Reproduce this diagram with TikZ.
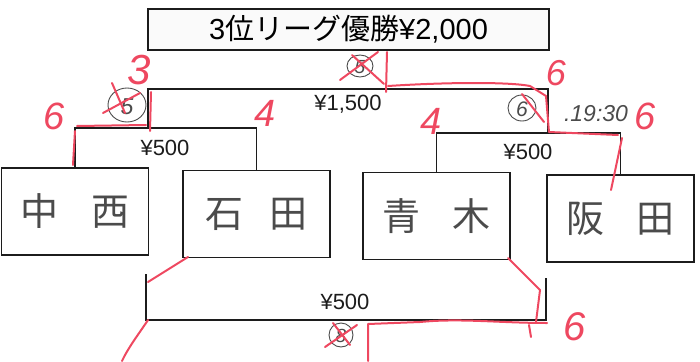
\documentclass[tikz,border=0pt]{standalone}
\usepackage{fontspec}
\setmainfont{Liberation Sans}
\newfontfamily\jp{Noto Sans CJK JP}
\definecolor{redink}{RGB}{238,72,96}
\definecolor{pencil}{RGB}{75,75,75}
\definecolor{inkline}{RGB}{28,28,28}
\newcommand{\namefont}{\jp\fontsize{38}{40}\selectfont\color{pencil}}
\begin{document}
\begin{tikzpicture}[x=1pt,y=-1pt,
  box/.style={draw=inkline, line width=1.4pt, rectangle, inner sep=0pt},
  namebox/.style={box, minimum width=147, minimum height=87},
  bracket/.style={draw=inkline, line width=1.4pt},
  lab/.style={font=\fontsize{22}{24}\selectfont, text=inkline, inner sep=0pt},
  ink/.style={draw=redink, line width=2pt, line cap=round, line join=round},
  redtxt/.style={text=redink, font=\itshape\fontsize{38}{40}\selectfont, inner sep=0pt},
  pen/.style={draw=pencil, line width=0.9pt},
  pentxt/.style={text=pencil, font=\itshape\fontsize{23}{25}\selectfont, inner sep=0pt}]
\useasboundingbox (0,0) rectangle (700,361);

% title
\node[box, minimum width=401, minimum height=41, fill=gray!4] (title) at (348.5,29.5)
  {\fontsize{29}{31}\selectfont 3{\jp 位リーグ優勝}¥2,000};

% name boxes
\node[namebox] (nk) at (75,211.5) {\raisebox{-8pt}{\namefont 中\hspace{34pt}西}};
\node[namebox] (is) at (256.5,214) {\raisebox{-8pt}{\namefont 石\hspace{26pt}田}};
\node[namebox] (ao) at (436.5,216) {\raisebox{-8pt}{\namefont 青\hspace{32pt}木}};
\node[namebox] (sa) at (620.5,218.5) {\raisebox{-8pt}{\namefont 阪\hspace{33pt}田}};

% brackets
\coordinate (m1) at (148,128);
\coordinate (m2) at (548,133);
\coordinate (t1) at (348,89);
\draw[bracket] (nk.north) |- (m1) -| (is.north);
\draw[bracket] (ao.north) |- (m2) -| (sa.north);
\draw[bracket] (m1) |- (t1) -| (m2);
\node[lab] (l1) at (165,148) {¥500};
\node[lab] (l2) at (528,152) {¥500};
\node[lab] (l3) at (348,104) {¥1,500};

\coordinate (bl) at (146,274);
\coordinate (br) at (546,278);
\coordinate (bm) at (346,320);
\draw[bracket] (bl) |- (bm) -| (br);
\node[lab] (l4) at (345,302) {¥500};

% pencil circles
\draw[pen] (127,105) ellipse [x radius=19, y radius=17];
\node[pentxt] at (127,107) {5};
\draw[pen] (360,66) ellipse [x radius=13, y radius=11];
\node[pentxt, font=\itshape\fontsize{19}{21}\selectfont] at (360,67) {5};
\draw[pen] (522,108) ellipse [x radius=14, y radius=13];
\node[pentxt, font=\itshape\fontsize{21}{23}\selectfont] at (522,109) {6};
\draw[pen] (341,335) ellipse [x radius=12, y radius=12];
\node[pentxt, font=\itshape\fontsize{19}{21}\selectfont] at (341,336) {8};
\node[pentxt] at (596,114) {.19:30};

% red strokes
\draw[ink] (77,126) -- (146,125);
\draw[ink] (75,131) -- (73,165);
\draw[ink] (151,92) -- (150,131);
\draw[ink] (103,113) -- (140,93);
\draw[ink] (112,83) -- (125,113);
\draw[ink] (387,52) -- (386,92);
\draw[ink] (340,80) -- (378,52);
\draw[ink] (352,55) -- (384,84);
\draw[ink] (388,86) .. controls (450,82) and (510,82) .. (530,86) -- (546,96) -- (549,132) -- (618,135);
\draw[ink] (622,138) -- (611,190);
\draw[ink] (522,94) -- (544,122);
\draw[ink] (188,257) -- (148,282);
\draw[ink] (148,320) .. controls (138,335) and (128,348) .. (122,361);
\draw[ink] (508,258) -- (540,290) -- (536,322);
\draw[ink] (368,361) -- (368,324) -- (420,322) .. controls (460,318) and (500,323) .. (547,323);
\draw[ink] (529,325) -- (531,337);
\draw[ink] (325,347) -- (357,325);
\draw[ink] (333,323) -- (350,345);

% red numbers
\node[redtxt, font=\itshape\fontsize{42}{44}\selectfont] at (139,70) {3};
\node[redtxt] at (54,116) {6};
\node[redtxt] at (265,113) {4};
\node[redtxt] at (431,121) {4};
\node[redtxt, font=\itshape\fontsize{36}{38}\selectfont] at (556,73) {6};
\node[redtxt] at (645,116) {6};
\node[redtxt, font=\itshape\fontsize{40}{42}\selectfont] at (575,327) {6};
\end{tikzpicture}
\end{document}
